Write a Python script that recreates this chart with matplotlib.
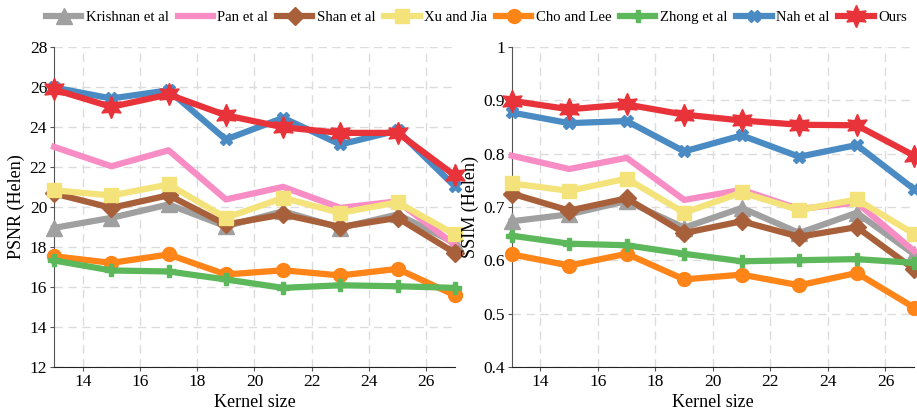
import matplotlib.pyplot as plt
from matplotlib.ticker import MultipleLocator

plt.rcParams['font.family'] = ['Liberation Serif', 'DejaVu Serif']

kernel = [13, 15, 17, 19, 21, 23, 25, 27]
methods = ["Krishnan et al", "Pan et al", "Shan et al", "Xu and Jia",
           "Cho and Lee", "Zhong et al", "Nah et al", "Ours"]

psnr_krishnan = [18.95, 19.45, 20.12, 19.03, 19.78, 18.95, 19.62, 18.2]
psnr_pan = [23.0, 22.03, 22.83, 20.37, 21.0, 19.95, 20.28, 18.1]
psnr_shan = [20.67, 19.95, 20.58, 19.12, 19.62, 19.0, 19.45, 17.7]
psnr_xu = [20.83, 20.57, 21.12, 19.45, 20.45, 19.7, 20.23, 18.62]
psnr_cho = [17.53, 17.2, 17.62, 16.62, 16.83, 16.57, 16.9, 15.58]
psnr_zhong = [17.32, 16.82, 16.77, 16.37, 15.95, 16.08, 16.03, 15.95]
psnr_nah = [25.97, 25.42, 25.83, 23.37, 24.45, 23.12, 23.82, 21.03]
psnr_ours = [25.87, 25.0, 25.62, 24.58, 23.98, 23.7, 23.7, 21.57]

ssim_krishnan = [0.673, 0.686, 0.711, 0.661, 0.698, 0.651, 0.689, 0.611]
ssim_pan = [0.796, 0.771, 0.792, 0.713, 0.732, 0.696, 0.708, 0.617]
ssim_shan = [0.725, 0.693, 0.716, 0.651, 0.673, 0.644, 0.662, 0.583]
ssim_xu = [0.744, 0.730, 0.753, 0.689, 0.727, 0.694, 0.714, 0.649]
ssim_cho = [0.611, 0.590, 0.612, 0.564, 0.573, 0.553, 0.576, 0.511]
ssim_zhong = [0.646, 0.631, 0.628, 0.612, 0.598, 0.600, 0.602, 0.595]
ssim_nah = [0.877, 0.857, 0.861, 0.804, 0.834, 0.794, 0.816, 0.733]
ssim_ours = [0.899, 0.883, 0.892, 0.873, 0.862, 0.854, 0.853, 0.796]

psnr = [psnr_krishnan, psnr_pan, psnr_shan, psnr_xu, psnr_cho, psnr_zhong, psnr_nah, psnr_ours]
ssim = [ssim_krishnan, ssim_pan, ssim_shan, ssim_xu, ssim_cho, ssim_zhong, ssim_nah, ssim_ours]

# style per method: colour, marker, marker size
styles = [
    ("#a0a0a0", "^", 12),
    ("#f88cc4", None, 0),
    ("#a8603a", "D", 9),
    ("#f4e27a", "s", 10),
    ("#ff8519", "o", 10),
    ("#5cb85a", "P", 9),
    ("#4a8bc4", "X", 9),
    ("#e8333a", (6, 1, 0), 16),
]

fig = plt.figure(figsize=(9.17, 4.15), dpi=100)
ax1 = fig.add_axes([0.059, 0.116, 0.437, 0.771])
ax2 = fig.add_axes([0.558, 0.116, 0.439, 0.771])

def draw(ax, data, ylim, step, ylabel, fmt):
    for name, vals, (c, m, ms) in zip(methods, data, styles):
        ax.plot(kernel, vals, color=c, lw=4.5, marker=m, ms=ms, label=name,
                clip_on=False, zorder=3)
    ax.set_xlim(13, 27)
    ax.set_ylim(*ylim)
    ax.xaxis.set_major_locator(MultipleLocator(2))
    ax.yaxis.set_major_locator(MultipleLocator(step))
    ax.yaxis.set_major_formatter(fmt)
    ax.grid(True, ls=(0, (6, 4)), color="#dcdcdc", lw=1)
    for s in ["top", "right"]:
        ax.spines[s].set_visible(False)
    ax.spines["left"].set_color("#555555")
    ax.spines["bottom"].set_color("#222222")
    ax.tick_params(labelsize=12.5, length=3, pad=2, color="#555555")
    ax.set_xlabel("Kernel size", fontsize=13, labelpad=3)
    ax.set_ylabel(ylabel, fontsize=13, labelpad=3)

draw(ax1, psnr, (12, 28), 2, "PSNR (Helen)", lambda v, _: f"{v:.0f}")
draw(ax2, ssim, (0.4, 1.0), 0.1, "SSIM (Helen)",
     lambda v, _: "1" if abs(v - 1) < 1e-6 else f"{v:.1f}")

handles, labels = ax1.get_legend_handles_labels()
fig.legend(handles, labels, loc="upper center", ncol=8, frameon=False,
           bbox_to_anchor=(0.5195, 1.005), fontsize=10.6, handlelength=2.4,
           columnspacing=0.6, handletextpad=0.3)

fig.savefig("out.png", dpi=100)
